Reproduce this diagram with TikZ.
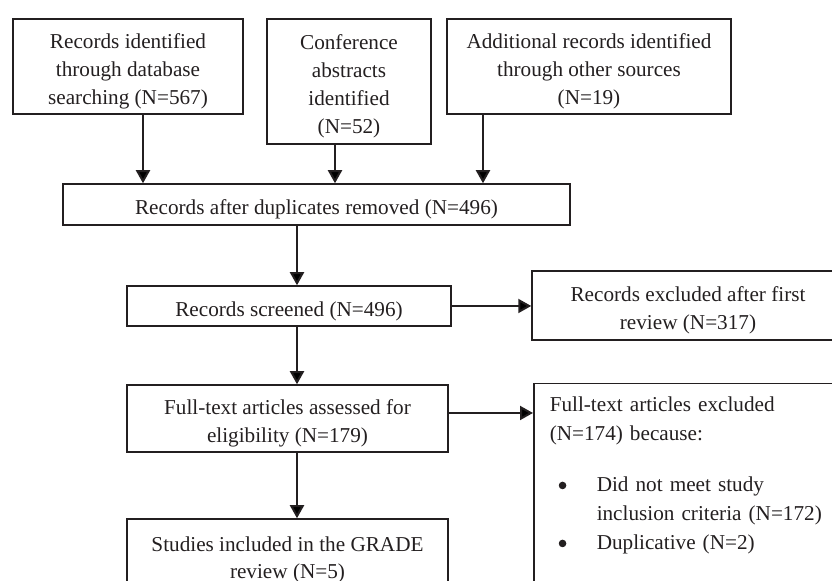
\documentclass[tikz,border=0pt]{standalone}
\usepackage{fontspec}
\setmainfont{Liberation Serif}
\usetikzlibrary{arrows.meta}
\definecolor{ink}{RGB}{35,31,32}
\newcommand{\bul}{\tikz[baseline=-3pt]\fill[ink] (0,0) circle (1.9pt);}
\newcommand{\boxstrut}{\rule{0pt}{12.3pt}}
\begin{document}
\begin{tikzpicture}[x=0.5pt,y=-0.5pt,
    box/.style={draw=ink,line width=0.75pt,text=ink,inner sep=0pt,font=\fontsize{10.6}{13.9}\selectfont},
    boxc/.style={box,align=center},
    arr/.style={draw=ink,line width=1pt,-{Triangle[length=6.5pt,width=7pt]}}]
\useasboundingbox (0,0) rectangle (832,581);
\clip (0,0) rectangle (832,581);
\node[boxc,minimum width=115pt,minimum height=47.5pt] (recdb) at (128,66.5) {\boxstrut Records identified\\through database\\searching (N=567)};
\node[boxc,minimum width=82pt,minimum height=62.5pt] (conf) at (349,81.5) {\boxstrut Conference\\abstracts\\identified\\(N=52)};
\node[boxc,minimum width=142pt,minimum height=47.5pt] (addl) at (589,66.5) {\boxstrut Additional records identified\\through other sources\\(N=19)};
\node[boxc,minimum width=253.5pt,minimum height=20.5pt] (dedup) at (316.5,204.5) {\boxstrut Records after duplicates removed (N=496)};
\node[boxc,minimum width=162pt,minimum height=20pt] (screen) at (289,306) {\boxstrut Records screened (N=496)};
\node[boxc,minimum width=160.5pt,minimum height=33.5pt] (fulltext) at (287.5,418.5) {\boxstrut Full-text articles assessed for\\eligibility (N=179)};
\node[boxc,minimum width=160.5pt,minimum height=36pt] (incl) at (287.5,555) {\boxstrut Studies included in the GRADE\\review (N=5)};
\node[boxc,minimum width=156pt,minimum height=34.5pt] (excl1) at (688,305.5) {\boxstrut Records excluded after first\\review (N=317)};
\node[box,font=\fontsize{10.6}{14.5}\selectfont,anchor=north west,align=left,text width=140pt,inner xsep=8pt,inner ysep=6.5pt] (excl2) at (533,383)
    {Full-text articles excluded\\(N=174) because:\\[11pt]
     \hspace*{4.5pt}\makebox[19pt][l]{\bul}Did not meet study\\
     \hspace*{23.5pt}inclusion criteria (N=172)\\
     \hspace*{4.5pt}\makebox[19pt][l]{\bul}Duplicative (N=2)\\[60pt]\mbox{}};
\coordinate (colA) at (143,0);
\coordinate (colB) at (335,0);
\coordinate (colC) at (483,0);
\coordinate (spine) at (297,0);
\draw[arr] (recdb.south -| colA) -- (dedup.north -| colA);
\draw[arr] (conf.south -| colB) -- (dedup.north -| colB);
\draw[arr] (addl.south -| colC) -- (dedup.north -| colC);
\draw[arr] (dedup.south -| spine) -- (screen.north -| spine);
\draw[arr] (screen.south -| spine) -- (fulltext.north -| spine);
\draw[arr] (fulltext.south -| spine) -- (incl.north -| spine);
\draw[arr] (screen.east) -- (screen.east -| excl1.west);
\draw[arr] ([yshift=2.75pt]fulltext.east) -- ([yshift=2.75pt]fulltext.east -| excl2.west);
\end{tikzpicture}
\end{document}
